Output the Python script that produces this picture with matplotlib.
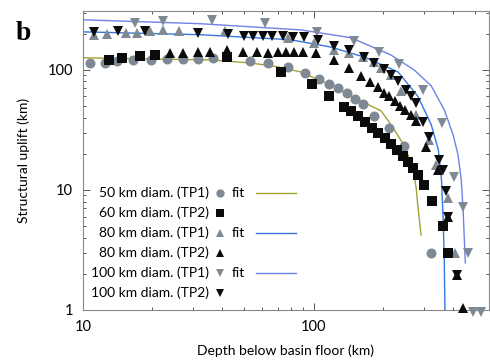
import matplotlib
matplotlib.use("Agg")
import matplotlib.pyplot as plt
import numpy as np

plt.rcParams['font.family'] = ['Lato', 'DejaVu Sans']

# ---- data (depth km, uplift km) ----
# 50 km diam. (TP1), grey circles
d50_tp1 = [10.7, 12.5, 14.1, 16.5, 19.8, 23.2, 27.2, 31.6, 36.7, 53.2, 63.7, 77.8, 91.4,
           106, 117, 127, 139, 151, 163, 182, 212, 246, 323]
u50_tp1 = [114, 114, 119, 121, 121, 123, 123, 123, 126, 119, 114, 106, 94,
           84, 76, 71, 64, 57, 52, 41, 33, 23, 3.0]

# 60 km diam. (TP2), black squares
d60_tp2 = [13.0, 14.8, 17.7, 20.6, 42.3, 71.9, 98, 117, 135, 145, 155, 167, 179,
           190, 204, 216, 230, 244, 256, 269, 283, 301, 326, 364, 383]
u60_tp2 = [121, 126, 131, 133, 128, 96, 76, 61, 49, 45, 41, 37, 33,
           30, 27, 24, 21.5, 19.2, 17.1, 15.3, 13.3, 11.0, 8.1, 5.0, 3.0]

# 80 km diam. (TP1), grey up triangles
d80_tp1 = [11.2, 12.7, 15.4, 17.2, 19.6, 22.3, 26.1, 41.4, 77.1, 100, 122, 142, 163,
           182, 196, 216, 239, 278, 317, 340, 383, 410]
u80_tp1 = [196, 200, 203, 203, 211, 215, 211, 211, 185, 168, 147, 139, 128,
           117, 104, 91, 66, 42, 26, 16.2, 8.6, 3.0]

# 80 km diam. (TP2), black up triangles
d80_tp2 = [23.9, 27.2, 31.6, 35.7, 42.3, 49.6, 57.0, 63.7, 69.8, 75.6, 81.8, 89.5, 102,
           122, 142, 160, 175, 190, 202, 212, 225, 237, 249, 264, 278, 307, 347, 383,
           418, 444]
u80_tp2 = [139, 139, 141, 141, 147, 141, 141, 139, 141, 141, 141, 141, 139,
           121, 104, 89, 79, 72, 64, 60, 55, 50, 46, 42, 37.6, 22.8, 14.7, 6.0,
           1.96, 1.04]

# 100 km diam. (TP1), grey down triangles
d100_tp1 = [16.8, 22.3, 36.4, 61.8, 103, 149, 192, 235, 298, 358, 406, 444, 467, 491, 532]
u100_tp1 = [246, 256, 261, 246, 207, 174, 141, 112, 68, 36, 12.8, 7.2, 3.0, 0.97, 0.97]

# 100 km diam. (TP2), black down triangles
d100_tp2 = [11.2, 14.2, 18.6, 31.6, 42.7, 50.1, 54.8, 60.6, 66.3, 73.4, 81.0, 90.4, 104,
            122, 142, 165, 182, 202, 216, 232, 251, 264, 278, 298, 317, 350, 364, 375,
            383, 418]
u100_tp2 = [207, 211, 211, 203, 200, 192, 192, 192, 192, 192, 188, 188, 178,
            158, 147, 128, 114, 102, 91, 81, 68, 60, 53, 37, 27.7, 17.8, 14.7, 9.8,
            6.0, 1.96]

# fit curves
fit50_d = [10, 19.6, 35.7, 53.2, 69.8, 87.8, 104, 125, 145, 173, 196, 216, 246, 269, 278, 283, 292]
fit50_u = [126, 123, 121, 114, 106, 96, 83, 72, 60.7, 51.1, 45.5, 35, 23.7, 15.6, 10.4, 7.2, 4.2]

fit80_d = [10, 32.3, 79.4, 118, 165, 232, 283, 323, 347, 358, 364, 368, 371]
fit80_u = [207, 196, 178, 155, 128, 96, 60, 35, 21.5, 12.1, 5.6, 2.6, 0.8]

fit100_d = [10, 32.3, 87.8, 145, 216, 272, 323, 368, 402, 422, 436, 444, 454]
fit100_u = [261, 242, 215, 185, 133, 100, 73.6, 46.4, 28.7, 19.6, 12.1, 6.8, 2.46]

grey = '#7e8994'
black = '#0b0b0b'
c50 = '#a3a234'
c80 = '#3677e0'
c100 = '#6f82e8'

fig = plt.figure(figsize=(4.9, 3.6), dpi=100)
ax = fig.add_axes([0.169, 0.139, 0.829, 0.831])

ax.plot(fit50_d, fit50_u, '-', color=c50, lw=1.0, zorder=2)
ax.plot(fit80_d, fit80_u, '-', color=c80, lw=1.0, zorder=2)
ax.plot(fit100_d, fit100_u, '-', color=c100, lw=1.0, zorder=2)

ax.plot(d50_tp1, u50_tp1, 'o', color=grey, ms=7.2, mew=0, zorder=3, clip_on=False)
ax.plot(d80_tp1, u80_tp1, '^', color=grey, ms=7.5, mew=0, zorder=3, clip_on=False)
ax.plot(d100_tp1, u100_tp1, 'v', color=grey, ms=7.5, mew=0, zorder=3, clip_on=False)
ax.plot(d60_tp2, u60_tp2, 's', color=black, ms=7.2, mew=0, zorder=4, clip_on=False)
ax.plot(d80_tp2, u80_tp2, '^', color=black, ms=7.5, mew=0, zorder=4, clip_on=False)
ax.plot(d100_tp2, u100_tp2, 'v', color=black, ms=7.5, mew=0, zorder=4, clip_on=False)

ax.set_xscale('log')
ax.set_yscale('log')
ax.set_xlim(10, 575)
ax.set_ylim(1, 310)
ax.set_xticks([10, 100])
ax.set_xticklabels(['10', '100'])
ax.set_yticks([1, 10, 100])
ax.set_yticklabels(['1', '10', '100'])
ax.tick_params(which='both', direction='in', top=True, right=True, labelsize=10.5,
               color='#555555', width=0.7)
ax.tick_params(which='major', length=5, pad=7)
ax.tick_params(which='minor', length=2.5)
for s in ax.spines.values():
    s.set_color('#888888')
    s.set_linewidth(0.8)

ax.set_xlabel('Depth below basin floor (km)', fontsize=10, labelpad=8)
ax.set_ylabel('Structural uplift (km)', fontsize=10, labelpad=13)

# hand-made legend
labels = ['50 km diam. (TP1)', '60 km diam. (TP2)', '80 km diam. (TP1)',
          '80 km diam. (TP2)', '100 km diam. (TP1)', '100 km diam. (TP2)']
marks = [('o', grey), ('s', black), ('^', grey), ('^', black), ('v', grey), ('v', black)]
fits = [c50, None, c80, None, c100, None]
rows = [0.391, 0.324, 0.258, 0.191, 0.124, 0.057]
for lab, (m, c), fc, yy in zip(labels, marks, fits, rows):
    ax.text(0.310, yy, lab, transform=ax.transAxes, ha='right', va='center', fontsize=10)
    ax.plot([0.338], [yy], m, color=c, ms=6, mew=0, transform=ax.transAxes)
    if fc is not None:
        ax.text(0.367, yy, 'fit', transform=ax.transAxes, ha='left', va='center', fontsize=10)
        ax.plot([0.426, 0.525], [yy, yy], '-', color=fc, lw=1.0, transform=ax.transAxes)

fig.text(0.033, 0.888, 'b', fontsize=20, fontweight='bold', family='Liberation Serif')

fig.savefig('out.png', dpi=100)
